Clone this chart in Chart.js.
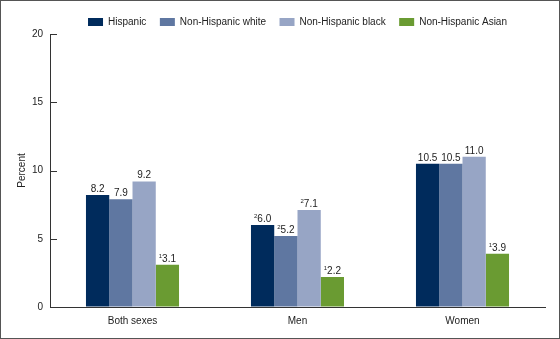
<!DOCTYPE html>
<html>
<head>
<meta charset="utf-8">
<script src="https://cdn.jsdelivr.net/npm/chart.js@4/dist/chart.umd.min.js"></script>
<style>
  html, body { margin: 0; padding: 0; background: #fff; }
  #wrap { width: 560px; height: 339px; }
</style>
</head>
<body>
<div id="wrap"><canvas id="chart" width="560" height="339"></canvas></div>
<script>
// Categories, groups and values
const categories = ["Both sexes", "Men", "Women"];
const groups = ["Hispanic", "Non-Hispanic white", "Non-Hispanic black", "Non-Hispanic Asian"];
const hispanic = [8.2, 6.0, 10.5];
const nhWhite = [7.9, 5.2, 10.5];
const nhBlack = [9.2, 7.1, 11.0];
const nhAsian = [3.1, 2.2, 3.9];
// footnote marks shown before each value label
const hispanicNotes = ["", "2", ""];
const nhWhiteNotes = ["", "2", ""];
const nhBlackNotes = ["", "2", ""];
const nhAsianNotes = ["1", "1", "1"];
const yTicks = [0, 5, 10, 15, 20];

const colors = ["#002b5c", "#5f77a1", "#97a5c5", "#6a9b32"];
const seriesValues = [hispanic, nhWhite, nhBlack, nhAsian];
const seriesNotes = [hispanicNotes, nhWhiteNotes, nhBlackNotes, nhAsianNotes];

const FONT = "'Liberation Sans', Arial, sans-serif";
const TEXT = "#222";

// value labels above each bar, with a small superscript note
const valueLabels = {
    id: "valueLabels",
    afterDatasetsDraw(chart) {
        const ctx = chart.ctx;
        ctx.save();
        ctx.fillStyle = TEXT;
        ctx.textBaseline = "alphabetic";
        chart.data.datasets.forEach((ds, i) => {
            chart.getDatasetMeta(i).data.forEach((bar, j) => {
                const txt = ds.data[j].toFixed(1);
                const note = seriesNotes[i][j];
                ctx.font = "10px " + FONT;
                const w = ctx.measureText(txt).width;
                ctx.font = "6px " + FONT;
                const nw = note ? ctx.measureText(note).width : 0;
                const x0 = bar.x - (w + nw) / 2;
                const yb = bar.y - 3;
                if (note) {
                    ctx.textAlign = "left";
                    ctx.fillText(note, x0, yb - 4);
                }
                ctx.font = "10px " + FONT;
                ctx.textAlign = "left";
                ctx.fillText(txt, x0 + nw, yb);
            });
        });
        ctx.restore();
    }
};

// short tick marks on the inside of the y axis, plus the outer frame
const innerTicks = {
    id: "innerTicks",
    afterDraw(chart) {
        const ctx = chart.ctx;
        const y = chart.scales.y;
        const left = chart.chartArea.left;
        ctx.save();
        ctx.strokeStyle = "#333";
        ctx.lineWidth = 1;
        ctx.beginPath();
        yTicks.forEach(v => {
            const py = Math.round(y.getPixelForValue(v)) + 0.5;
            ctx.moveTo(left, py);
            ctx.lineTo(left + 7, py);
        });
        ctx.stroke();
        ctx.strokeStyle = "#555";
        ctx.strokeRect(0.5, 0.5, chart.width - 1, chart.height - 1);
        ctx.restore();
    }
};

new Chart(document.getElementById("chart"), {
    type: "bar",
    data: {
        labels: categories,
        datasets: groups.map((g, i) => ({
            label: g,
            data: seriesValues[i],
            backgroundColor: colors[i],
            borderWidth: 0,
            categoryPercentage: 0.564,
            barPercentage: 1
        }))
    },
    options: {
        responsive: false,
        animation: false,
        layout: { padding: { left: 0, right: 15, top: 3.5, bottom: 4 } },
        plugins: {
            legend: {
                position: "top",
                fullSize: false,
                maxHeight: 30.5,
                labels: {
                    boxWidth: 15,
                    boxHeight: 8,
                    padding: 13.5,
                    color: TEXT,
                    font: { size: 10, family: FONT }
                }
            },
            tooltip: { enabled: false }
        },
        scales: {
            x: {
                grid: { display: false, drawTicks: false },
                border: { color: "#333", width: 1 },
                ticks: { color: TEXT, padding: 8, font: { size: 10, family: FONT } }
            },
            y: {
                min: 0,
                max: 20,
                afterFit(scale) { scale.width = 50; },
                afterBuildTicks(scale) { scale.ticks = yTicks.map(v => ({ value: v })); },
                grid: { display: true, drawOnChartArea: false, drawTicks: false },
                border: { color: "#333", width: 1 },
                ticks: { color: TEXT, padding: 7, font: { size: 10, family: FONT } },
                title: {
                    display: true,
                    text: "Percent",
                    color: TEXT,
                    padding: { top: 16, bottom: 0 },
                    font: { size: 10, family: FONT }
                }
            }
        }
    },
    plugins: [valueLabels, innerTicks]
});
</script>
</body>
</html>
